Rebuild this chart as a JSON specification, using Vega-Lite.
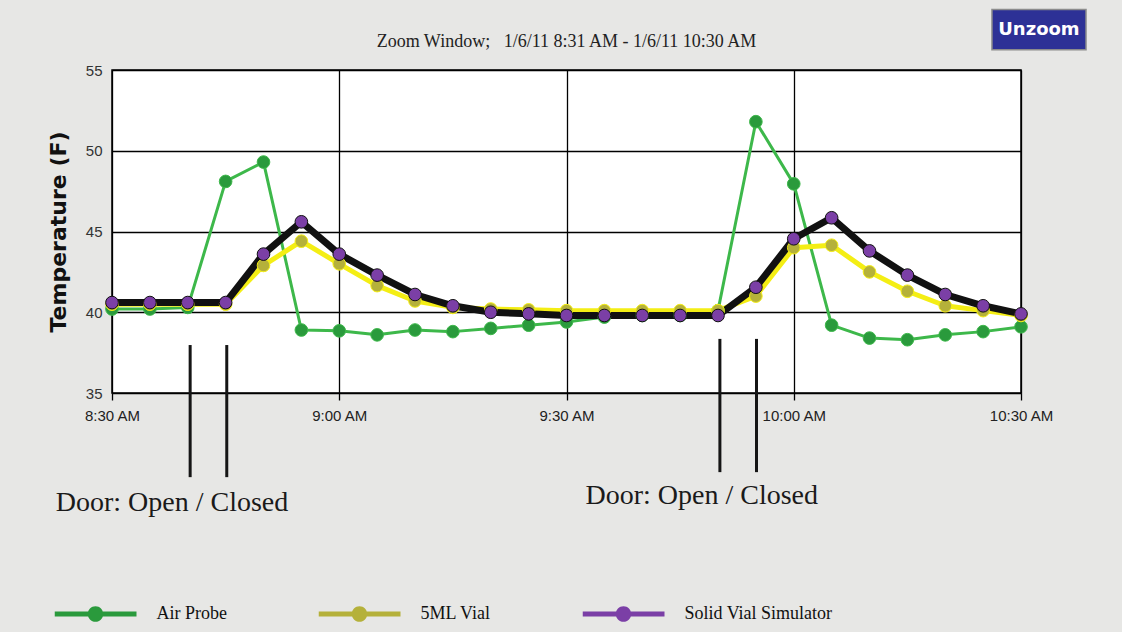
{
  "$schema": "https://vega.github.io/schema/vega-lite/v6.json",
  "width": 909,
  "height": 323,
  "autosize": {"type": "none"},
  "padding": {"left": 112, "top": 70, "right": 101, "bottom": 239},
  "background": "#e7e7e5",
  "title": {
    "text": "Zoom Window;\u00a0\u00a0\u00a01/6/11 8:31 AM - 1/6/11 10:30 AM",
    "font": "Liberation Serif",
    "fontSize": 18,
    "fontWeight": "normal",
    "color": "#222222",
    "anchor": "middle",
    "frame": "group",
    "offset": -42
  },
  "datasets": {
    "temps": [
      {"time": "2011-01-06T08:30:00", "series": "Air Probe", "temp": 40.2},
      {"time": "2011-01-06T08:35:00", "series": "Air Probe", "temp": 40.2},
      {"time": "2011-01-06T08:40:00", "series": "Air Probe", "temp": 40.3},
      {"time": "2011-01-06T08:45:00", "series": "Air Probe", "temp": 48.1},
      {"time": "2011-01-06T08:50:00", "series": "Air Probe", "temp": 49.3},
      {"time": "2011-01-06T08:55:00", "series": "Air Probe", "temp": 38.9},
      {"time": "2011-01-06T09:00:00", "series": "Air Probe", "temp": 38.85},
      {"time": "2011-01-06T09:05:00", "series": "Air Probe", "temp": 38.6},
      {"time": "2011-01-06T09:10:00", "series": "Air Probe", "temp": 38.9},
      {"time": "2011-01-06T09:15:00", "series": "Air Probe", "temp": 38.8},
      {"time": "2011-01-06T09:20:00", "series": "Air Probe", "temp": 39.0},
      {"time": "2011-01-06T09:25:00", "series": "Air Probe", "temp": 39.2},
      {"time": "2011-01-06T09:30:00", "series": "Air Probe", "temp": 39.4},
      {"time": "2011-01-06T09:35:00", "series": "Air Probe", "temp": 39.7},
      {"time": "2011-01-06T09:40:00", "series": "Air Probe", "temp": 39.8},
      {"time": "2011-01-06T09:45:00", "series": "Air Probe", "temp": 39.8},
      {"time": "2011-01-06T09:50:00", "series": "Air Probe", "temp": 40.1},
      {"time": "2011-01-06T09:55:00", "series": "Air Probe", "temp": 51.8},
      {"time": "2011-01-06T10:00:00", "series": "Air Probe", "temp": 47.95},
      {"time": "2011-01-06T10:05:00", "series": "Air Probe", "temp": 39.2},
      {"time": "2011-01-06T10:10:00", "series": "Air Probe", "temp": 38.4},
      {"time": "2011-01-06T10:15:00", "series": "Air Probe", "temp": 38.3},
      {"time": "2011-01-06T10:20:00", "series": "Air Probe", "temp": 38.6},
      {"time": "2011-01-06T10:25:00", "series": "Air Probe", "temp": 38.8},
      {"time": "2011-01-06T10:30:00", "series": "Air Probe", "temp": 39.1},
      {"time": "2011-01-06T08:30:00", "series": "5ML Vial", "temp": 40.5},
      {"time": "2011-01-06T08:35:00", "series": "5ML Vial", "temp": 40.5},
      {"time": "2011-01-06T08:40:00", "series": "5ML Vial", "temp": 40.5},
      {"time": "2011-01-06T08:45:00", "series": "5ML Vial", "temp": 40.5},
      {"time": "2011-01-06T08:50:00", "series": "5ML Vial", "temp": 42.9},
      {"time": "2011-01-06T08:55:00", "series": "5ML Vial", "temp": 44.4},
      {"time": "2011-01-06T09:00:00", "series": "5ML Vial", "temp": 43.0},
      {"time": "2011-01-06T09:05:00", "series": "5ML Vial", "temp": 41.65},
      {"time": "2011-01-06T09:10:00", "series": "5ML Vial", "temp": 40.7},
      {"time": "2011-01-06T09:15:00", "series": "5ML Vial", "temp": 40.3},
      {"time": "2011-01-06T09:20:00", "series": "5ML Vial", "temp": 40.2},
      {"time": "2011-01-06T09:25:00", "series": "5ML Vial", "temp": 40.15},
      {"time": "2011-01-06T09:30:00", "series": "5ML Vial", "temp": 40.1},
      {"time": "2011-01-06T09:35:00", "series": "5ML Vial", "temp": 40.1},
      {"time": "2011-01-06T09:40:00", "series": "5ML Vial", "temp": 40.1},
      {"time": "2011-01-06T09:45:00", "series": "5ML Vial", "temp": 40.1},
      {"time": "2011-01-06T09:50:00", "series": "5ML Vial", "temp": 40.1},
      {"time": "2011-01-06T09:55:00", "series": "5ML Vial", "temp": 41.0},
      {"time": "2011-01-06T10:00:00", "series": "5ML Vial", "temp": 44.0},
      {"time": "2011-01-06T10:05:00", "series": "5ML Vial", "temp": 44.15},
      {"time": "2011-01-06T10:10:00", "series": "5ML Vial", "temp": 42.5},
      {"time": "2011-01-06T10:15:00", "series": "5ML Vial", "temp": 41.3},
      {"time": "2011-01-06T10:20:00", "series": "5ML Vial", "temp": 40.4},
      {"time": "2011-01-06T10:25:00", "series": "5ML Vial", "temp": 40.1},
      {"time": "2011-01-06T10:30:00", "series": "5ML Vial", "temp": 39.8},
      {"time": "2011-01-06T08:30:00", "series": "Solid Vial Simulator", "temp": 40.6},
      {"time": "2011-01-06T08:35:00", "series": "Solid Vial Simulator", "temp": 40.6},
      {"time": "2011-01-06T08:40:00", "series": "Solid Vial Simulator", "temp": 40.6},
      {"time": "2011-01-06T08:45:00", "series": "Solid Vial Simulator", "temp": 40.6},
      {"time": "2011-01-06T08:50:00", "series": "Solid Vial Simulator", "temp": 43.6},
      {"time": "2011-01-06T08:55:00", "series": "Solid Vial Simulator", "temp": 45.6},
      {"time": "2011-01-06T09:00:00", "series": "Solid Vial Simulator", "temp": 43.6},
      {"time": "2011-01-06T09:05:00", "series": "Solid Vial Simulator", "temp": 42.3},
      {"time": "2011-01-06T09:10:00", "series": "Solid Vial Simulator", "temp": 41.1},
      {"time": "2011-01-06T09:15:00", "series": "Solid Vial Simulator", "temp": 40.4},
      {"time": "2011-01-06T09:20:00", "series": "Solid Vial Simulator", "temp": 40.0},
      {"time": "2011-01-06T09:25:00", "series": "Solid Vial Simulator", "temp": 39.9},
      {"time": "2011-01-06T09:30:00", "series": "Solid Vial Simulator", "temp": 39.8},
      {"time": "2011-01-06T09:35:00", "series": "Solid Vial Simulator", "temp": 39.8},
      {"time": "2011-01-06T09:40:00", "series": "Solid Vial Simulator", "temp": 39.8},
      {"time": "2011-01-06T09:45:00", "series": "Solid Vial Simulator", "temp": 39.8},
      {"time": "2011-01-06T09:50:00", "series": "Solid Vial Simulator", "temp": 39.8},
      {"time": "2011-01-06T09:55:00", "series": "Solid Vial Simulator", "temp": 41.55},
      {"time": "2011-01-06T10:00:00", "series": "Solid Vial Simulator", "temp": 44.55},
      {"time": "2011-01-06T10:05:00", "series": "Solid Vial Simulator", "temp": 45.85},
      {"time": "2011-01-06T10:10:00", "series": "Solid Vial Simulator", "temp": 43.8},
      {"time": "2011-01-06T10:15:00", "series": "Solid Vial Simulator", "temp": 42.3},
      {"time": "2011-01-06T10:20:00", "series": "Solid Vial Simulator", "temp": 41.1},
      {"time": "2011-01-06T10:25:00", "series": "Solid Vial Simulator", "temp": 40.4},
      {"time": "2011-01-06T10:30:00", "series": "Solid Vial Simulator", "temp": 39.9}
    ],
    "doors": [
      {"time": "2011-01-06T08:40:19", "temp": 37.97, "temp2": 29.79},
      {"time": "2011-01-06T08:45:09", "temp": 37.97, "temp2": 29.79},
      {"time": "2011-01-06T09:50:15", "temp": 38.35, "temp2": 30.1},
      {"time": "2011-01-06T09:55:05", "temp": 38.35, "temp2": 30.1}
    ],
    "doorLabels": [
      {"time": "2011-01-06T08:37:55", "temp": 27.68, "label": "Door: Open / Closed"},
      {"time": "2011-01-06T09:47:51", "temp": 28.12, "label": "Door: Open / Closed"}
    ],
    "button": [
      {"time": "2011-01-06T10:26:10", "time2": "2011-01-06T10:38:35", "temp": 58.74, "temp2": 56.26}
    ],
    "buttonLabel": [
      {"time": "2011-01-06T10:32:22", "temp": 57.5, "label": "Unzoom"}
    ]
  },
  "encoding": {
    "x": {
      "field": "time", "type": "temporal",
      "scale": {"domain": [{"year": 2011, "month": 1, "date": 6, "hours": 8, "minutes": 30}, {"year": 2011, "month": 1, "date": 6, "hours": 10, "minutes": 30}], "nice": false},
      "axis": {
        "title": null,
        "values": [
          {"year": 2011, "month": 1, "date": 6, "hours": 8, "minutes": 30},
          {"year": 2011, "month": 1, "date": 6, "hours": 9, "minutes": 0},
          {"year": 2011, "month": 1, "date": 6, "hours": 9, "minutes": 30},
          {"year": 2011, "month": 1, "date": 6, "hours": 10, "minutes": 0},
          {"year": 2011, "month": 1, "date": 6, "hours": 10, "minutes": 30}
        ],
        "format": "%-I:%M %p",
        "grid": true, "gridColor": "#000000", "gridWidth": 1.3, "gridOpacity": 1,
        "domain": false,
        "ticks": true, "tickColor": "#000000", "tickSize": 7, "tickWidth": 1.3,
        "labelFont": "Liberation Sans", "labelFontSize": 15, "labelColor": "#222222",
        "labelPadding": 8, "labelFlush": false
      }
    },
    "y": {
      "field": "temp", "type": "quantitative",
      "scale": {"domain": [35, 55], "nice": false, "zero": false},
      "axis": {
        "title": "Temperature (F)",
        "values": [35, 40, 45, 50, 55],
        "grid": true, "gridColor": "#000000", "gridWidth": 1.3, "gridOpacity": 1,
        "domain": false, "ticks": false,
        "labelFont": "Liberation Sans", "labelFontSize": 15, "labelColor": "#333333",
        "labelPadding": 10,
        "titleFont": "DejaVu Sans", "titleFontWeight": "bold", "titleFontSize": 22,
        "titleColor": "#111111", "titlePadding": 15
      }
    }
  },
  "layer": [
    {
      "data": {"name": "temps"},
      "transform": [{"filter": {"field": "series", "equal": "Air Probe"}}],
      "mark": {"type": "line", "stroke": "#3db84a", "strokeWidth": 3, "strokeJoin": "round", "strokeCap": "round"}
    },
    {
      "data": {"name": "temps"},
      "transform": [{"filter": {"field": "series", "equal": "5ML Vial"}}],
      "mark": {"type": "line", "stroke": "#f4ee14", "strokeWidth": 5, "strokeJoin": "round", "strokeCap": "round"}
    },
    {
      "data": {"name": "temps"},
      "transform": [{"filter": {"field": "series", "equal": "Solid Vial Simulator"}}],
      "mark": {"type": "line", "stroke": "#111111", "strokeWidth": 7, "strokeJoin": "round", "strokeCap": "round"}
    },
    {
      "data": {"name": "temps"},
      "mark": {"type": "circle", "opacity": 1, "strokeWidth": 1},
      "encoding": {
        "fill": {
          "field": "series", "type": "nominal",
          "sort": ["Air Probe", "5ML Vial", "Solid Vial Simulator"],
          "scale": {"range": ["#2a9a3c", "#b5b13a", "#7b3fa6"]},
          "legend": {
            "orient": "none", "legendX": -57.5, "legendY": 534,
            "direction": "horizontal", "title": null,
            "symbolType": "M-1,-0.06L-0.18,-0.06L-0.18,0.06L-1,0.06Z M0.18,-0.06L1,-0.06L1,0.06L0.18,0.06Z M0.19,0A0.19,0.19,0,1,1,-0.19,0A0.19,0.19,0,1,1,0.19,0Z",
            "symbolSize": 6724, "symbolStrokeWidth": 0,
            "gridAlign": "all", "columnPadding": 14, "labelOffset": 20,
            "labelFont": "Liberation Serif", "labelFontSize": 18, "labelColor": "#111111",
            "labelLimit": 300, "clipHeight": 20, "padding": 0
          }
        },
        "stroke": {
          "field": "series", "type": "nominal",
          "scale": {"domain": ["Air Probe", "5ML Vial", "Solid Vial Simulator"], "range": ["#3db84a", "#f4ee14", "#111111"]},
          "legend": {
            "orient": "none", "legendX": -57.5, "legendY": 534,
            "direction": "horizontal", "title": null,
            "symbolType": "M-1,-0.06L-0.18,-0.06L-0.18,0.06L-1,0.06Z M0.18,-0.06L1,-0.06L1,0.06L0.18,0.06Z M0.19,0A0.19,0.19,0,1,1,-0.19,0A0.19,0.19,0,1,1,0.19,0Z",
            "symbolSize": 6724, "symbolStrokeWidth": 0,
            "gridAlign": "all", "columnPadding": 14, "labelOffset": 20,
            "labelFont": "Liberation Serif", "labelFontSize": 18, "labelColor": "#111111",
            "labelLimit": 300, "clipHeight": 20, "padding": 0
          }
        },
        "size": {
          "field": "series", "type": "ordinal",
          "scale": {"domain": ["Air Probe", "5ML Vial", "Solid Vial Simulator"], "range": [160, 160, 210]},
          "legend": null
        }
      }
    },
    {
      "data": {"name": "doors"},
      "mark": {"type": "rule", "strokeWidth": 3, "color": "#151515"},
      "encoding": {
        "y2": {"field": "temp2"}
      }
    },
    {
      "data": {"name": "doorLabels"},
      "mark": {"type": "text", "font": "Liberation Serif", "fontSize": 28, "color": "#1a1a1a", "align": "center", "baseline": "alphabetic"},
      "encoding": {
        "text": {"field": "label"}
      }
    },
    {
      "data": {"name": "button"},
      "mark": {"type": "rect", "fill": "#2d3196", "stroke": "#8c8c8c", "strokeWidth": 1.5},
      "encoding": {
        "x2": {"field": "time2"},
        "y2": {"field": "temp2"}
      }
    },
    {
      "data": {"name": "buttonLabel"},
      "mark": {"type": "text", "font": "DejaVu Sans", "fontWeight": "bold", "fontSize": 18, "color": "#ffffff", "align": "center", "baseline": "middle"},
      "encoding": {
        "text": {"field": "label"}
      }
    }
  ],
  "config": {
    "view": {"stroke": "#000000", "strokeWidth": 1.5, "fill": "#ffffff"}
  }
}
